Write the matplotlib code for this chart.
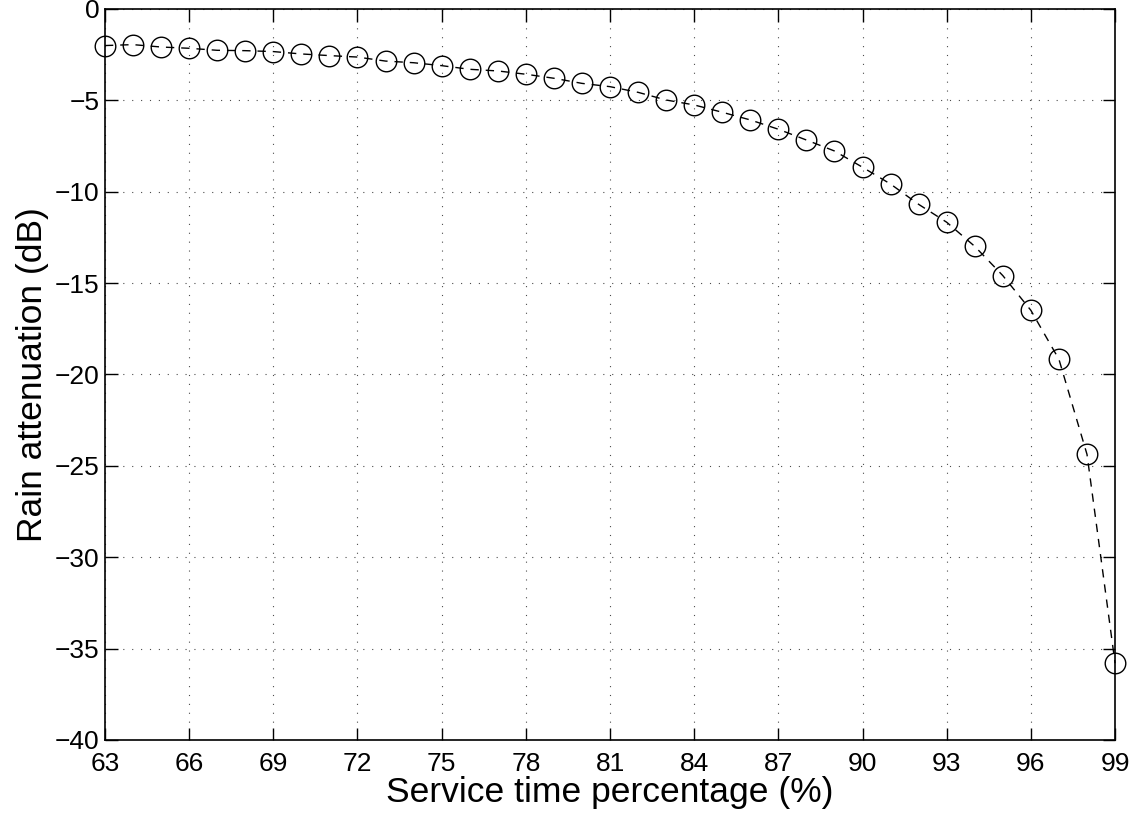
import matplotlib
matplotlib.use('Agg')
import matplotlib.pyplot as plt
import numpy as np

plt.rcParams['font.family'] = ['Liberation Sans', 'DejaVu Sans']

# Service time percentage (%)
service_time = np.arange(63, 100)

# Rain attenuation (dB)
attenuation = [-2.0, -1.95, -2.08, -2.15, -2.26, -2.28, -2.33, -2.46, -2.55, -2.63,
               -2.85, -2.94, -3.1, -3.3, -3.39, -3.57, -3.79, -4.07, -4.25, -4.56,
               -4.98, -5.25, -5.65, -6.07, -6.58, -7.17, -7.77, -8.66, -9.58, -10.69,
               -11.67, -12.99, -14.59, -16.49, -19.17, -24.37, -35.8]

x_ticks = np.arange(63, 100, 3)
y_ticks = np.arange(-40, 1, 5)

fig = plt.figure(figsize=(11.37, 8.18), dpi=100)
ax = fig.add_axes([0.0923, 0.0954, 0.8884, 0.8936])

ax.plot(service_time, attenuation, linestyle='--', color='black', linewidth=1.0,
        dashes=(6, 5), marker='o', markersize=14.8, markerfacecolor='none',
        markeredgecolor='black', markeredgewidth=1.0, clip_on=False)

ax.set_xlim(63, 99)
ax.set_ylim(-40, 0)
ax.set_xticks(x_ticks)
ax.set_yticks(y_ticks)
ax.tick_params(direction='in', length=9, width=1, labelsize=19,
               top=True, right=True)
ax.tick_params(axis='x', pad=9)
ax.tick_params(axis='y', pad=4)
ax.grid(True, linestyle=(0, (1, 7)), color='black', linewidth=0.8, alpha=0.7)
for s in ax.spines.values():
    s.set_linewidth(1.2)

ax.set_xlabel('Service time percentage (%)', fontsize=25.5, labelpad=0)
ax.set_ylabel('Rain attenuation (dB)', fontsize=25.5, labelpad=4)

fig.savefig('out.png', dpi=100)
